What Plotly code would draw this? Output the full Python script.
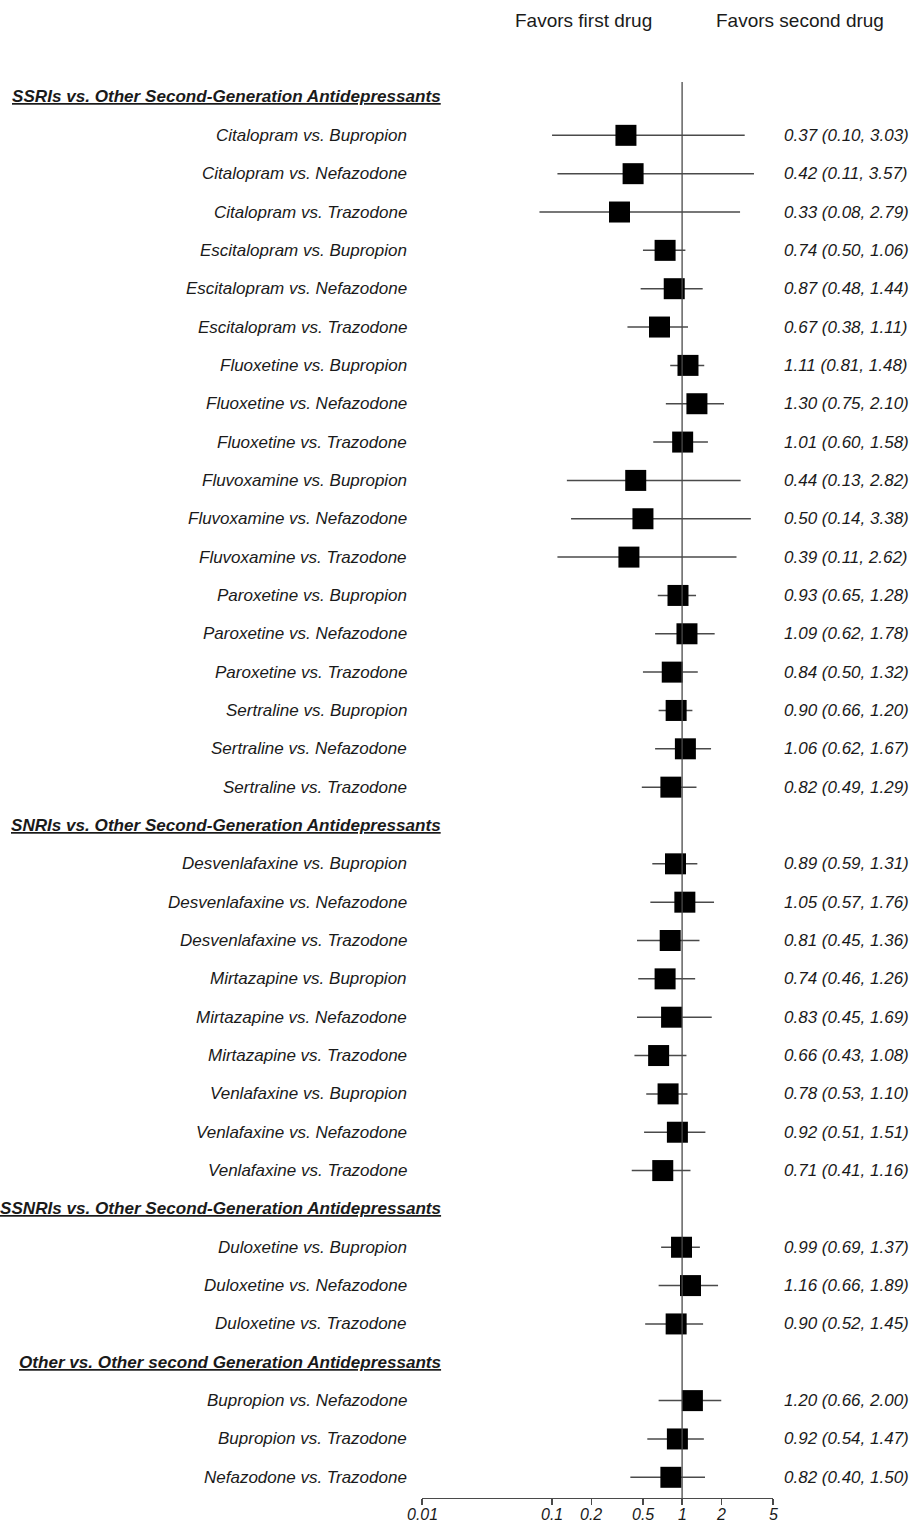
import plotly.graph_objects as go
import math

# ---------------- data ----------------
group_titles = [
    "SSRIs vs. Other Second-Generation Antidepressants",
    "SNRIs vs. Other Second-Generation Antidepressants",
    "SSNRIs vs. Other Second-Generation Antidepressants",
    "Other vs. Other second Generation Antidepressants",
]
group_sizes = [18, 9, 3, 3]

comparisons = [
    "Citalopram vs. Bupropion", "Citalopram vs. Nefazodone", "Citalopram vs. Trazodone",
    "Escitalopram vs. Bupropion", "Escitalopram vs. Nefazodone", "Escitalopram vs. Trazodone",
    "Fluoxetine vs. Bupropion", "Fluoxetine vs. Nefazodone", "Fluoxetine vs. Trazodone",
    "Fluvoxamine vs. Bupropion", "Fluvoxamine vs. Nefazodone", "Fluvoxamine vs. Trazodone",
    "Paroxetine vs. Bupropion", "Paroxetine vs. Nefazodone", "Paroxetine vs. Trazodone",
    "Sertraline vs. Bupropion", "Sertraline vs. Nefazodone", "Sertraline vs. Trazodone",
    "Desvenlafaxine vs. Bupropion", "Desvenlafaxine vs. Nefazodone", "Desvenlafaxine vs. Trazodone",
    "Mirtazapine vs. Bupropion", "Mirtazapine vs. Nefazodone", "Mirtazapine vs. Trazodone",
    "Venlafaxine vs. Bupropion", "Venlafaxine vs. Nefazodone", "Venlafaxine vs. Trazodone",
    "Duloxetine vs. Bupropion", "Duloxetine vs. Nefazodone", "Duloxetine vs. Trazodone",
    "Bupropion vs. Nefazodone", "Bupropion vs. Trazodone", "Nefazodone vs. Trazodone",
]
odds_ratio = [0.37, 0.42, 0.33, 0.74, 0.87, 0.67, 1.11, 1.30, 1.01, 0.44, 0.50, 0.39,
              0.93, 1.09, 0.84, 0.90, 1.06, 0.82,
              0.89, 1.05, 0.81, 0.74, 0.83, 0.66, 0.78, 0.92, 0.71,
              0.99, 1.16, 0.90,
              1.20, 0.92, 0.82]
ci_lower = [0.10, 0.11, 0.08, 0.50, 0.48, 0.38, 0.81, 0.75, 0.60, 0.13, 0.14, 0.11,
            0.65, 0.62, 0.50, 0.66, 0.62, 0.49,
            0.59, 0.57, 0.45, 0.46, 0.45, 0.43, 0.53, 0.51, 0.41,
            0.69, 0.66, 0.52,
            0.66, 0.54, 0.40]
ci_upper = [3.03, 3.57, 2.79, 1.06, 1.44, 1.11, 1.48, 2.10, 1.58, 2.82, 3.38, 2.62,
            1.28, 1.78, 1.32, 1.20, 1.67, 1.29,
            1.31, 1.76, 1.36, 1.26, 1.69, 1.08, 1.10, 1.51, 1.16,
            1.37, 1.89, 1.45,
            2.00, 1.47, 1.50]

tick_values = [0.01, 0.1, 0.2, 0.5, 1, 2, 5]
tick_labels = ["0.01", "0.1", "0.2", "0.5", "1", "2", "5"]

# ---------------- layout of rows ----------------
row_pos = []
header_pos = []
pos = 0
for g, n in zip(group_titles, group_sizes):
    header_pos.append(pos)
    pos += 1
    for _ in range(n):
        row_pos.append(pos)
        pos += 1

FONT = "Arial, Liberation Sans, sans-serif"
TXT = "#1a1a1a"
LINE = "#4a4a4a"

W, H = 911, 1524
ML, MR, MT, MB = 421.5, 138.4, 60, 25.7
px_per_row = 38.35
plot_h = H - MT - MB
y_top = -(97 - MT) / px_per_row
y_bot = y_top + plot_h / px_per_row

fig = go.Figure()

fig.add_trace(go.Scatter(
    x=odds_ratio, y=row_pos, mode="markers",
    marker=dict(symbol="square", size=21, color="black", line=dict(width=0)),
    error_x=dict(type="data", symmetric=False,
                 array=[u - o for u, o in zip(ci_upper, odds_ratio)],
                 arrayminus=[o - l for o, l in zip(odds_ratio, ci_lower)],
                 width=0, color=LINE, thickness=1.5),
    showlegend=False, cliponaxis=False, hoverinfo="skip",
))

# reference line at 1
fig.add_trace(go.Scatter(
    x=[1, 1], y=[-(97 - 82) / px_per_row, y_bot], mode="lines",
    line=dict(color=LINE, width=1.3), showlegend=False, cliponaxis=False,
    hoverinfo="skip",
))

annotations = []
to_paper = lambda px: (px - ML) / (W - ML - MR)
for name, y, o, l, u in zip(comparisons, row_pos, odds_ratio, ci_lower, ci_upper):
    annotations.append(dict(
        text=f"<i>{name}</i>", x=to_paper(408), xref="paper", y=y, yref="y",
        xanchor="right", yanchor="middle", showarrow=False,
        font=dict(family=FONT, size=17, color=TXT)))
    annotations.append(dict(
        text=f"<i>{o:.2f} ({l:.2f}, {u:.2f})</i>", x=to_paper(781.7), xref="paper",
        y=y, yref="y", xanchor="left", yanchor="middle", showarrow=False,
        font=dict(family=FONT, size=17, color=TXT)))
for title, y in zip(group_titles, header_pos):
    annotations.append(dict(
        text=f"<b><i><u>{title}</u></i></b>", x=to_paper(443), xref="paper", y=y, yref="y",
        xanchor="right", yanchor="middle", showarrow=False,
        font=dict(family=FONT, size=17.1, color=TXT)))

# x tick labels (placed on the log axis scale)
tick_y = -(1514.5 - (H - MB)) / plot_h
for v, t in zip(tick_values, tick_labels):
    annotations.append(dict(
        text=f"<i>{t}</i>", x=math.log10(v), xref="x", y=tick_y, yref="paper",
        xanchor="center", yanchor="middle", showarrow=False, borderpad=0,
        font=dict(family=FONT, size=16, color=TXT)))

top_y = 1 + (MT - 20) / plot_h
annotations.append(dict(text="Favors first drug", x=to_paper(583), xref="paper",
                        y=top_y, yref="paper", xanchor="center", yanchor="middle",
                        showarrow=False, font=dict(family=FONT, size=19, color=TXT)))
annotations.append(dict(text="Favors second drug", x=to_paper(800), xref="paper",
                        y=top_y, yref="paper", xanchor="center", yanchor="middle",
                        showarrow=False, font=dict(family=FONT, size=19, color=TXT)))

fig.update_layout(
    width=W, height=H,
    margin=dict(l=ML, r=MR, t=MT, b=MB, pad=0, autoexpand=False),
    paper_bgcolor="white", plot_bgcolor="white",
    annotations=annotations,
    xaxis=dict(type="log", range=[math.log10(0.01), math.log10(5)],
               tickvals=tick_values, showticklabels=False,
               ticks="outside", ticklen=6, tickwidth=1.2, tickcolor=LINE,
               showline=True, linecolor=LINE, linewidth=1.2,
               showgrid=False, zeroline=False, fixedrange=True, automargin=False),
    yaxis=dict(range=[y_bot, y_top], visible=False, showgrid=False, zeroline=False,
               automargin=False, fixedrange=True),
)

fig.write_html(
    "out.html",
    config={"displayModeBar": False, "staticPlot": True},
    post_script="document.body.style.margin='0';document.body.style.overflow='hidden';",
)
